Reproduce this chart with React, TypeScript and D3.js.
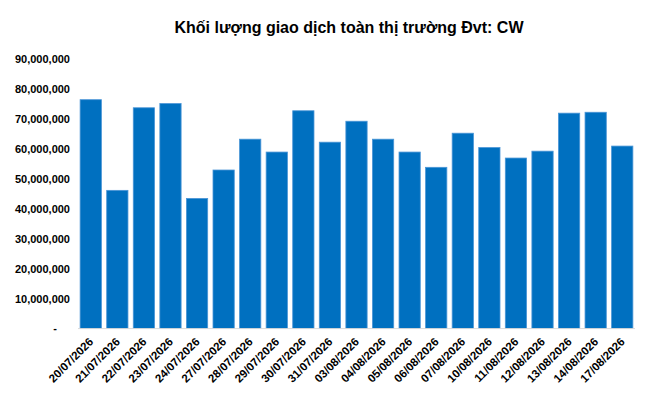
import React from "react";
import * as d3 from "d3";

const dates = [
  "20/07/2026", "21/07/2026", "22/07/2026", "23/07/2026", "24/07/2026",
  "27/07/2026", "28/07/2026", "29/07/2026", "30/07/2026", "31/07/2026",
  "03/08/2026", "04/08/2026", "05/08/2026", "06/08/2026", "07/08/2026",
  "10/08/2026", "11/08/2026", "12/08/2026", "13/08/2026", "14/08/2026",
  "17/08/2026",
];
const volumes = [
  76500000, 46200000, 73800000, 75200000, 43500000,
  53000000, 63300000, 59000000, 72800000, 62300000,
  69300000, 63300000, 59000000, 53900000, 65300000,
  60500000, 57000000, 59300000, 72000000, 72300000,
  61000000,
];
const yTicks = [0, 10000000, 20000000, 30000000, 40000000, 50000000, 60000000, 70000000, 80000000, 90000000];
const title = "Khối lượng giao dịch toàn thị trường Đvt: CW";

const W = 649;
const H = 403;
const M = { left: 78, right: 14, top: 59.3, bottom: 74.4 };

export default function App() {
  const x = d3.scaleBand<string>()
    .domain(dates)
    .range([M.left, W - M.right])
    .paddingInner(0.2)
    .paddingOuter(0.08);
  const y = d3.scaleLinear()
    .domain([0, 90000000])
    .range([H - M.bottom, M.top]);
  const fmt = d3.format(",");
  const font = "'Liberation Sans', Arial, sans-serif";

  return (
    <svg width={W} height={H} style={{ position: "absolute", left: 0, top: 0, background: "#fff" }} fontFamily={font}>
      <text x={349} y={33} textAnchor="middle" fontSize={16} fontWeight="bold" fill="#000">{title}</text>
      {yTicks.map((t) => (
        <text key={t} x={t === 0 ? 57 : 70} y={y(t)} dy="0.35em" textAnchor="end" fontSize={11} fontWeight="bold" fill="#000">
          {t === 0 ? "-" : fmt(t)}
        </text>
      ))}
      {dates.map((d, i) => (
        <rect key={d} x={x(d)} y={y(volumes[i])} width={x.bandwidth()} height={y(0) - y(volumes[i])}
          fill="#0070C0" stroke="#4A95D6" strokeWidth={0.8} />
      ))}
      <line x1={M.left} x2={W - M.right} y1={y(0)} y2={y(0)} stroke="#D9D9D9" strokeWidth={1} />
      {dates.map((d) => {
        const cx = (x(d) as number) + x.bandwidth() / 2 + 0.5;
        const cy = y(0) + 11;
        return (
          <text key={d} transform={`translate(${cx},${cy}) rotate(-45)`} textAnchor="end" dy="0.35em" fontSize={11.5} fontWeight="bold" fill="#000">
            {d}
          </text>
        );
      })}
    </svg>
  );
}
